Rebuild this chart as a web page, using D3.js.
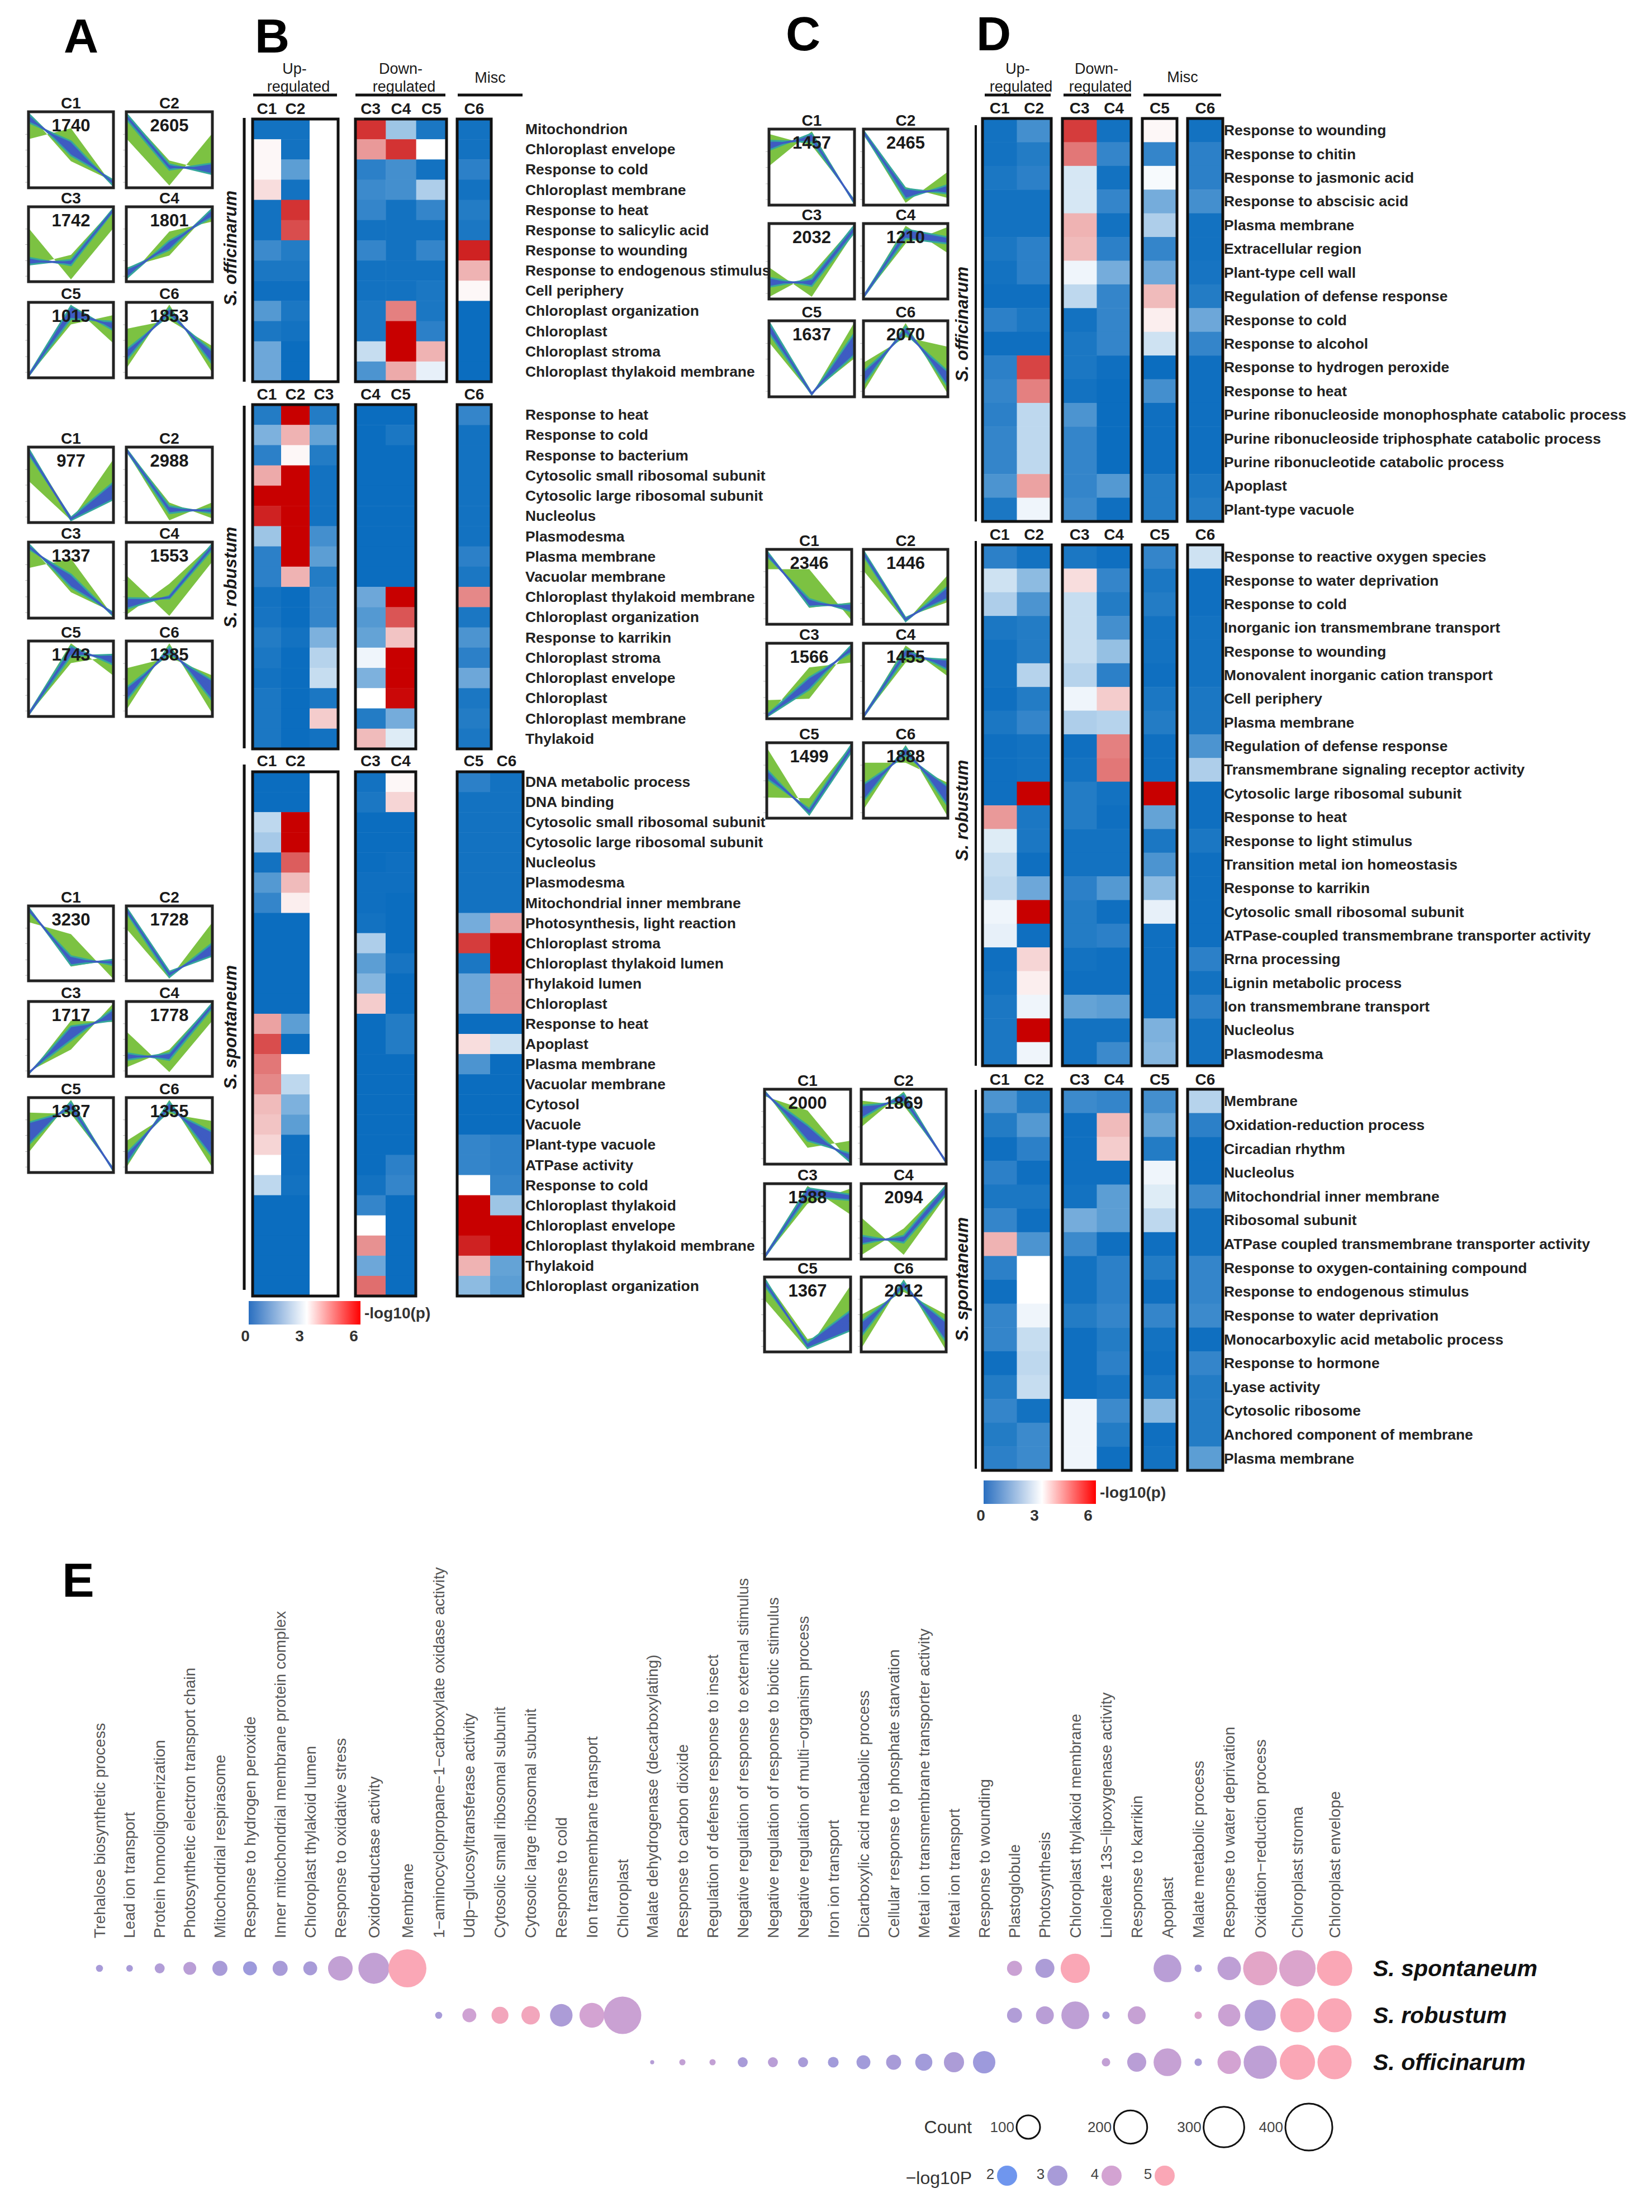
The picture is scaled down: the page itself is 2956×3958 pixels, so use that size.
<!DOCTYPE html>
<html>
<head>
<meta charset="utf-8">
<script src="https://cdn.jsdelivr.net/npm/d3@7"></script>
<style>
  html, body { margin: 0; padding: 0; background: #fff; }
  text { font-family: "Liberation Sans", Arial, sans-serif; }
</style>
</head>
<body>
<div id="chart"></div>
<script>
// ---- cluster plots: each row of numbers is [edge A, edge B] of the green band, then of the blue band
const clusterNames = ["C1", "C2", "C3", "C4", "C5", "C6"];

const countsA = [
  [1740, 2605, 1742, 1801, 1015, 1853],
  [977, 2988, 1337, 1553, 1743, 1385],
  [3230, 1728, 1717, 1778, 1387, 1355]
];
const countsC = [
  [1457, 2465, 2032, 1210, 1637, 2070],
  [2346, 1446, 1566, 1455, 1499, 1888],
  [2000, 1869, 1588, 2094, 1367, 2012]
];

const bandsA = [
  [
    [[1, .34, .06], [.65, .8, 0], [1, .42, .08], [.88, .62, 0]],
    [[1, .35, .2], [.65, 0, .72], [1, .3, .16], [.92, .22, .31]],
    [[.72, 0, .72], [.2, .35, 1], [.31, .2, .96], [.21, .28, 1]],
    [[0, .68, .82], [.17, .34, 1], [.02, .55, .88], [.15, .42, 1]],
    [[0, .72, .85], [.03, 1, .46], [0, .8, .76], [.02, .98, .64]],
    [[.66, .78, .42], [.11, 1, .05], [.37, .85, .35], [.22, .95, .17]]
  ],
  [
    [[1, .05, .29], [.55, 0, .85], [1, 0, .29], [.92, .04, .53]],
    [[1, .25, .03], [.96, 0, .25], [1, .2, .1], [.97, .1, .17]],
    [[1, .33, .05], [.67, .8, 0], [1, .4, .05], [.93, .58, 0]],
    [[.56, 0, .75], [.02, .45, 1], [.25, .24, .92], [.1, .28, 1]],
    [[0, .72, .82], [.03, 1, .55], [0, .82, .84], [.02, .96, .7]],
    [[.65, .8, .55], [.07, 1, .02], [.38, .85, .48], [.2, .95, .2]]
  ],
  [
    [[.8, .63, 0], [1, .17, .27], [.95, .32, .19], [1, .19, .27]],
    [[1, .1, .37], [.7, 0, .79], [1, .1, .32], [.93, .02, .5]],
    [[0, .76, .74], [.04, .35, 1], [.01, .68, .76], [.03, .48, .92]],
    [[.6, .03, .75], [.1, .35, 1], [.3, .2, .93], [.2, .3, 1]],
    [[.82, .8, .03], [.26, 1, 0], [.68, .85, .03], [.37, .97, 0]],
    [[.42, .8, .7], [.05, 1, .05], [.25, .85, .55], [.1, .97, .2]]
  ]
];
const bandsC = [
  [
    [[.96, .8, .05], [.52, 1, 0], [.87, .85, .04], [.74, .97, 0]],
    [[1, .22, .07], [.95, 0, .43], [1, .2, .13], [.96, .06, .25]],
    [[.41, 0, .9], [0, .32, 1], [.27, .15, .9], [.14, .25, 1]],
    [[0, .75, .98], [.02, 1, .62], [0, .82, .75], [.02, .95, .84]],
    [[1, .03, .5], [.72, 0, 1], [1, .02, .55], [.85, 0, .85]],
    [[.45, .8, .67], [.05, 1, .02], [.33, .85, .33], [.15, .95, .12]]
  ],
  [
    [[1, .2, .28], [.75, .75, .03], [1, .22, .26], [.93, .33, .15]],
    [[1, .07, .28], [.72, 0, .66], [1, .06, .33], [.93, .01, .5]],
    [[.23, .25, 1], [0, .69, .76], [.03, .55, .9], [0, .38, 1]],
    [[0, .76, .82], [.02, 1, .57], [0, .84, .8], [.02, .95, .66]],
    [[.95, 0, .96], [.26, .25, 1], [.65, .02, .9], [.52, .1, 1]],
    [[.75, .75, .47], [.1, 1, 0], [.45, .85, .42], [.22, .97, .15]]
  ],
  [
    [[1, .2, .3], [.93, .73, 0], [1, .3, .12], [.96, .52, 0]],
    [[.87, .8, .03], [.5, 1, 0], [.8, .85, .02], [.62, .97, 0]],
    [[0, .75, .96], [.03, 1, .6], [0, .85, .8], [.02, .97, .88]],
    [[.55, .03, .85], [.03, .4, 1], [.3, .2, .88], [.18, .3, 1]],
    [[1, .15, .3], [.7, 0, .9], [1, .02, .27], [.9, .1, .55]],
    [[.5, .82, .5], [.03, 1, 0], [.4, .87, .4], [.2, .97, .12]]
  ]
];

// ---- heatmaps, -log10(p), null = empty column
const termsB1 = ["Mitochondrion", "Chloroplast envelope", "Response to cold", "Chloroplast membrane", "Response to heat", "Response to salicylic acid", "Response to wounding", "Response to endogenous stimulus", "Cell periphery", "Chloroplast organization", "Chloroplast", "Chloroplast stroma", "Chloroplast thylakoid membrane"];
const valuesB1 = [
  [.1, .1, null, 5.4, 1.8, .2, .1],
  [3.1, .1, null, 4.2, 5.4, 3, .1],
  [3.1, 1, null, .4, .7, .1, .4],
  [3.4, .1, null, .6, .7, 2, .1],
  [.1, 5.4, null, .5, .1, .5, .3],
  [.1, 5.1, null, .1, .1, .1, .2],
  [.6, .3, null, .5, .1, .5, 5.6],
  [.2, .2, null, .1, .1, .1, 3.9],
  [.05, .05, null, .1, .1, .2, 3.1],
  [.9, .2, null, .2, 4.5, .2, 0],
  [.2, .1, null, .2, 6, .4, 0],
  [1.2, 0, null, 2.3, 6, 3.9, 0],
  [1.2, 0, null, .8, 4, 2.7, 0]
];
const termsB2 = ["Response to heat", "Response to cold", "Response to bacterium", "Cytosolic small ribosomal subunit", "Cytosolic large ribosomal subunit", "Nucleolus", "Plasmodesma", "Plasma membrane", "Vacuolar membrane", "Chloroplast thylakoid membrane", "Chloroplast organization", "Response to karrikin", "Chloroplast stroma", "Chloroplast envelope", "Chloroplast", "Chloroplast membrane", "Thylakoid"];
const valuesB2 = [
  [.3, 6, .3, 0, 0, .5],
  [1.4, 3.9, 1.1, 0, .2, .1],
  [.4, 3.1, .3, 0, 0, .1],
  [4, 6, .1, 0, 0, .1],
  [6, 6, .1, 0, 0, .1],
  [5.6, 6, .1, 0, 0, .1],
  [1.8, 6, .7, 0, 0, .1],
  [.4, 6, 1, 0, 0, .4],
  [.4, 3.9, .3, 0, 0, .2],
  [.1, 0, .5, 1.2, 6, 4.4],
  [.15, 0, .5, .9, 5, .2],
  [.3, .1, 1.4, 1.1, 3.7, .8],
  [.2, 0, 2.1, 2.8, 6, .4],
  [.1, 0, 2.3, 1.4, 6, 1.2],
  [.2, 0, .2, 3, 5.9, .2],
  [.2, 0, 3.6, .3, 1.3, .3],
  [.2, 0, .1, 3.8, 2.6, .2]
];
const termsB3 = ["DNA metabolic process", "DNA binding", "Cytosolic small ribosomal subunit", "Cytosolic large ribosomal subunit", "Nucleolus", "Plasmodesma", "Mitochondrial inner membrane", "Photosynthesis, light reaction", "Chloroplast stroma", "Chloroplast thylakoid lumen", "Thylakoid lumen", "Chloroplast", "Response to heat", "Apoplast", "Plasma membrane", "Vacuolar membrane", "Cytosol", "Vacuole", "Plant-type vacuole", "ATPase activity", "Response to cold", "Chloroplast thylakoid", "Chloroplast envelope", "Chloroplast thylakoid membrane", "Thylakoid", "Chloroplast organization"];
const valuesB3 = [
  [0, 0, null, .1, 3.1, .4, .1],
  [0, 0, null, .2, 3.5, .1, .1],
  [2.2, 6, null, 0, 0, .1, .1],
  [1.9, 6, null, 0, 0, .1, .1],
  [.1, 4.9, null, 0, .05, .1, .1],
  [.9, 3.8, null, .05, .05, .1, .1],
  [.5, 3.2, null, .05, 0, .1, .1],
  [0, 0, null, .1, 0, 1.3, 4.1],
  [0, 0, null, 2, 0, 5.3, 6],
  [0, 0, null, 1, .15, .2, 6],
  [0, 0, null, 1.5, 0, 1.2, 4.3],
  [0, 0, null, 3.6, 0, 1.2, 4.3],
  [4.1, 1, null, 0, .3, 0, 0],
  [5.1, 0, null, 0, .3, 3.4, 2.4],
  [4.6, 3, null, 0, 0, .8, 0],
  [4.4, 2.2, null, 0, 0, 0, 0],
  [3.8, 1.4, null, 0, 0, 0, 0],
  [3.7, 1, null, 0, 0, 0, 0],
  [3.5, .05, null, 0, 0, .5, .4],
  [3, .05, null, 0, .4, .5, .4],
  [2.2, .1, null, .1, .5, 3, .5],
  [0, 0, null, .5, 0, 6, 1.8],
  [0, 0, null, 3, 0, 6, 6],
  [0, 0, null, 4.3, 0, 5.6, 6],
  [0, 0, null, 1.2, 0, 3.9, 1.1],
  [0, 0, null, 4.7, 0, 1.6, 1]
];

const termsD1 = ["Response to wounding", "Response to chitin", "Response to jasmonic acid", "Response to abscisic acid", "Plasma membrane", "Extracellular region", "Plant-type cell wall", "Regulation of defense response", "Response to cold", "Response to alcohol", "Response to hydrogen peroxide", "Response to heat", "Purine ribonucleoside monophosphate catabolic process", "Purine ribonucleoside triphosphate catabolic process", "Purine ribonucleotide catabolic process", "Apoplast", "Plant-type vacuole"];
const valuesD1 = [
  [.1, .7, 5.3, .1, 3.1, .1],
  [.1, .3, 4.6, .5, .5, .4],
  [.2, .4, 2.5, .1, 2.9, .4],
  [.1, .1, 2.5, .5, 1.3, .7],
  [.1, .1, 3.9, .1, 2, .1],
  [.2, .4, 3.8, .4, .5, .1],
  [.1, .4, 2.8, 1.3, 1.2, .15],
  [.05, .05, 2.2, .5, 3.8, .3],
  [.4, .2, .1, .5, 3.2, 1.2],
  [.05, .05, .2, .5, 2.4, .5],
  [.4, 5.2, .2, .05, 0, .05],
  [.5, 4.5, .1, 0, .7, .05],
  [.4, 2.2, .8, 0, .05, .05],
  [.5, 2.2, .5, 0, .05, .05],
  [.5, 2.2, .5, 0, .05, .05],
  [.8, 4.1, .5, .9, .3, .2],
  [.2, 2.8, .6, .05, .3, .3]
];
const termsD2 = ["Response to reactive oxygen species", "Response to water deprivation", "Response to cold", "Inorganic ion transmembrane transport", "Response to wounding", "Monovalent inorganic cation transport", "Cell periphery", "Plasma membrane", "Regulation of defense response", "Transmembrane signaling receptor activity", "Cytosolic large ribosomal subunit", "Response to heat", "Response to light stimulus", "Transition metal ion homeostasis", "Response to karrikin", "Cytosolic small ribosomal subunit", "ATPase-coupled transmembrane transporter activity", "Rrna processing", "Lignin metabolic process", "Ion transmembrane transport", "Nucleolus", "Plasmodesma"];
const valuesD2 = [
  [.4, .1, .2, .05, .5, 2.4],
  [2.4, 1.6, 3.4, .5, .2, .05],
  [2, .8, 2.3, .3, .3, .05],
  [.2, .3, 2.3, .7, .1, .1],
  [.1, .3, 2.3, 1.7, .1, .1],
  [.1, 2.1, 2.1, .4, .05, .1],
  [.05, .3, 2.8, 3.6, .2, .2],
  [.2, .5, 2, 2.1, .3, .2],
  [.05, .1, .05, 4.5, .05, .8],
  [.05, .1, .1, 4.6, .05, 2],
  [.05, 6, .3, .1, 6, .05],
  [4.2, .2, .3, .05, 1.1, .05],
  [2.6, .2, .1, .1, .2, .2],
  [2.3, .05, .1, .1, .8, .05],
  [2.2, 1.2, .4, .9, 1.6, .05],
  [2.8, 6, .3, .05, 2.7, .05],
  [2.7, .05, .3, .4, .05, .05],
  [.05, 3.5, .1, .05, .05, .4],
  [.1, 3.2, .05, .05, .05, .1],
  [.2, 2.8, 1.1, 1, .05, .4],
  [.2, 6, .1, .1, 1.4, .1],
  [.2, 2.8, .1, .6, 1.5, .1]
];
const termsD3 = ["Membrane", "Oxidation-reduction process", "Circadian rhythm", "Nucleolus", "Mitochondrial inner membrane", "Ribosomal subunit", "ATPase coupled transmembrane transporter activity", "Response to oxygen-containing compound", "Response to endogenous stimulus", "Response to water deprivation", "Monocarboxylic acid metabolic process", "Response to hormone", "Lyase activity", "Cytosolic ribosome", "Anchored component of membrane", "Plasma membrane"];
const valuesD3 = [
  [.8, .3, .6, .5, .7, 2.1],
  [.3, .9, .05, 3.8, 1.1, .4],
  [.05, .4, .05, 3.6, .3, .05],
  [.4, .05, .05, .05, 2.8, .05],
  [.2, .2, .1, 1, 2.6, .6],
  [.5, .05, 1.3, 1, 2.2, .1],
  [3.9, .8, .6, .05, .05, .1],
  [.4, 3, .1, .4, .3, .5],
  [.05, 3, .1, .4, .05, .5],
  [.5, 2.8, .3, .5, .5, .6],
  [.5, 2.3, .05, .3, .1, .05],
  [.05, 2.2, .05, .4, .05, .5],
  [.3, 2.3, .05, .15, .2, .3],
  [.5, .1, 2.8, .6, 1.6, .3],
  [.3, .6, 2.8, .3, .05, .3],
  [.4, .6, 2.8, .05, .1, 1]
];

// ---- panel E
const bubbleTerms = ["Trehalose biosynthetic process", "Lead ion transport", "Protein homooligomerization", "Photosynthetic electron transport chain", "Mitochondrial respirasome", "Response to hydrogen peroxide", "Inner mitochondrial membrane protein complex", "Chloroplast thylakoid lumen", "Response to oxidative stress", "Oxidoreductase activity", "Membrane", "1−aminocyclopropane−1−carboxylate oxidase activity", "Udp−glucosyltransferase activity", "Cytosolic small ribosomal subunit", "Cytosolic large ribosomal subunit", "Response to cold", "Ion transmembrane transport", "Chloroplast", "Malate dehydrogenase (decarboxylating)", "Response to carbon dioxide", "Regulation of defense response to insect", "Negative regulation of response to external stimulus", "Negative regulation of response to biotic stimulus", "Negative regulation of multi−organism process", "Iron ion transport", "Dicarboxylic acid metabolic process", "Cellular response to phosphate starvation", "Metal ion transmembrane transporter activity", "Metal ion transport", "Response to wounding", "Plastoglobule", "Photosynthesis", "Chloroplast thylakoid membrane", "Linoleate 13s−lipoxygenase activity", "Response to karrikin", "Apoplast", "Malate metabolic process", "Response to water deprivation", "Oxidation−reduction process", "Chloroplast stroma", "Chloroplast envelope"];
const bubbleSpecies = ["S. spontaneum", "S. robustum", "S. officinarum"];
// [term index, count, -log10P]
const bubblesSpontaneum = [[0, 9, 3], [1, 8, 3], [2, 18, 3.2], [3, 30, 3.4], [4, 41, 3], [5, 35, 2.8], [6, 41, 3], [7, 35, 3], [8, 110, 3.6], [9, 174, 3.6], [10, 262, 5], [30, 41, 3.8], [31, 66, 3.1], [32, 155, 5], [35, 140, 3.4], [36, 10, 3], [37, 100, 3.5], [38, 212, 4.4], [39, 240, 4.2], [40, 226, 5]];
const bubblesRobustum = [[11, 9, 3], [12, 35, 3.9], [13, 52, 4.8], [14, 62, 4.8], [15, 92, 3.1], [16, 113, 4], [17, 254, 3.8], [30, 41, 3.2], [31, 58, 3.4], [32, 140, 3.5], [33, 10, 3], [34, 58, 3.7], [36, 10, 4.2], [37, 90, 3.8], [38, 175, 3.2], [39, 212, 5], [40, 212, 5]];
const bubblesOfficinarum = [[18, 3, 3.3], [19, 7, 3.6], [20, 7, 3.6], [21, 18, 3], [22, 18, 3.4], [23, 18, 3], [24, 21, 2.9], [25, 35, 2.9], [26, 41, 3], [27, 53, 2.9], [28, 74, 3.1], [29, 91, 2.8], [33, 13, 3.6], [34, 66, 3.4], [35, 140, 3.7], [36, 10, 3], [37, 100, 4], [38, 200, 3.5], [39, 226, 5], [40, 212, 5]];
const legendCounts = [100, 200, 300, 400];
const legendP = [2, 3, 4, 5];

const width = 2956, height = 3958;
const ink = "#1a1a1a";

const svg = d3.select("#chart").append("svg")
  .attr("width", width)
  .attr("height", height)
  .style("display", "block");

// cell colours: same blue-white-red as the key, darker red end
const heatColor = d3.scaleLinear()
  .domain([0, 3, 6])
  .range(["#0b6dbf", "#ffffff", "#c80000"]);

function addText(str, x, y, size, opts = {}) {
  return svg.append("text")
    .attr("x", x)
    .attr("y", y)
    .attr("font-size", size)
    .attr("font-weight", opts.weight || "bold")
    .attr("font-style", opts.style || null)
    .attr("text-anchor", opts.anchor || "middle")
    .attr("dominant-baseline", "central")
    .attr("fill", opts.fill || ink)
    .attr("font-family", opts.family || null)
    .attr("transform", opts.rotate ? `rotate(${opts.rotate},${x},${y})` : null)
    .text(str);
}

// ---- small cluster plots
function drawCluster(x0, x1, y0, y1, name, count, band) {
  const g = svg.append("g");
  const x = d3.scaleLinear().domain([0, 2]).range([x0 + 1, x1 - 1]);
  const y = d3.scaleLinear().domain([0, 1]).range([y1 - 4, y0 + 4]);

  const area = d3.area()
    .x((d, i) => x(i))
    .y0((d, i) => y(d[0]))
    .y1((d, i) => y(d[1]));
  const midLine = d3.line()
    .x((d, i) => x(i))
    .y(d => y((d[0] + d[1]) / 2));

  const blueBand = d3.zip(band[2], band[3]);

  g.append("path")
    .attr("d", area(d3.zip(band[0], band[1])))
    .attr("fill", "#7cc242");
  g.append("path")
    .attr("d", area(blueBand))
    .attr("fill", "#3e5cc2")
    .attr("stroke", "#35a79c")
    .attr("stroke-width", 3);
  g.append("path")
    .attr("d", midLine(blueBand))
    .attr("fill", "none")
    .attr("stroke", "#3e5cc2")
    .attr("stroke-width", 3.5);

  const ticks = g.append("g")
    .attr("transform", `translate(${x0 - 2},0)`)
    .call(d3.axisLeft(y).tickValues([.05, .27, .5, .72]).tickSize(4).tickFormat(""));
  ticks.select(".domain").remove();
  ticks.selectAll("line").attr("stroke", "#bbb");

  g.append("rect")
    .attr("x", x0)
    .attr("y", y0)
    .attr("width", x1 - x0)
    .attr("height", y1 - y0)
    .attr("fill", "none")
    .attr("stroke", "#222")
    .attr("stroke-width", 5);

  addText(name, (x0 + x1) / 2, y0 - 16, 28);
  addText(count, (x0 + x1) / 2, y0 + 24, 31);
}

function drawClusterBlock(xs, ys, counts, bands) {
  counts.forEach((c, i) => {
    const col = xs[i % 2];
    const row = ys[Math.floor(i / 2)];
    drawCluster(col[0], col[1], row[0], row[1], clusterNames[i], c, bands[i]);
  });
}

const panelAColumns = [[51, 203], [226, 380]];
drawClusterBlock(panelAColumns, [[200, 336], [370, 504], [541, 676]], countsA[0], bandsA[0]);
drawClusterBlock(panelAColumns, [[800, 935], [970, 1106], [1147, 1282]], countsA[1], bandsA[1]);
drawClusterBlock(panelAColumns, [[1621, 1755], [1792, 1926], [1964, 2098]], countsA[2], bandsA[2]);

drawClusterBlock([[1376, 1529], [1545, 1696]], [[231, 367], [400, 535], [574, 710]], countsC[0], bandsC[0]);
drawClusterBlock([[1372, 1524], [1545, 1696]], [[983, 1117], [1151, 1286], [1329, 1464]], countsC[1], bandsC[1]);
drawClusterBlock([[1368, 1522], [1541, 1693]], [[1949, 2083], [2118, 2253], [2285, 2419]], countsC[2], bandsC[2]);

// ---- heatmap block: frames = [x0, x1, names of the columns in it]
function drawHeat(frames, y0, y1, terms, values, labelX, headerY) {
  const y = d3.scaleBand().domain(d3.range(terms.length)).range([y0, y1]);
  let offset = 0;

  frames.forEach(frame => {
    const names = frame[2];
    const first = offset;
    offset += names.length;
    const x = d3.scaleBand().domain(names).range([frame[0], frame[1]]);

    names.forEach((name, c) => {
      svg.append("g").selectAll("rect")
        .data(values.map(r => r[first + c]))
        .join("rect")
        .attr("x", x(name))
        .attr("y", (d, i) => y(i))
        .attr("width", x.bandwidth() + .5)
        .attr("height", y.bandwidth() + .5)
        .attr("fill", d => d === null ? "#fff" : heatColor(d));
      if (name.charAt(0) === "C") addText(name, x(name) + x.bandwidth() / 2, headerY, 28);
    });

    svg.append("rect")
      .attr("x", frame[0])
      .attr("y", y0)
      .attr("width", frame[1] - frame[0])
      .attr("height", y1 - y0)
      .attr("fill", "none")
      .attr("stroke", "#111")
      .attr("stroke-width", 5);
  });

  svg.append("g").selectAll("text")
    .data(terms)
    .join("text")
    .attr("x", labelX)
    .attr("y", (d, i) => y(i) + y.bandwidth() / 2)
    .attr("dominant-baseline", "central")
    .attr("font-size", 26.4)
    .attr("font-weight", "bold")
    .attr("fill", "#222")
    .text(d => d);
}

// the empty third column keeps its width, it is just not labelled
drawHeat([[452, 605, ["C1", "C2", " "]], [636, 799, ["C3", "C4", "C5"]], [818, 879, ["C6"]]], 213, 683, termsB1, valuesB1, 940, 194);
drawHeat([[452, 605, ["C1", "C2", "C3"]], [636, 744, ["C4", "C5"]], [818, 879, ["C6"]]], 724, 1340, termsB2, valuesB2, 940, 705);
drawHeat([[452, 605, ["C1", "C2", " "]], [636, 744, ["C3", "C4"]], [818, 936, ["C5", "C6"]]], 1381, 2319, termsB3, valuesB3, 940, 1361);

const framesD = [[1758, 1881, ["C1", "C2"]], [1901, 2024, ["C3", "C4"]], [2044, 2106, ["C5"]], [2125, 2188, ["C6"]]];
drawHeat(framesD, 212, 933, termsD1, valuesD1, 2190, 193);
drawHeat(framesD, 975, 1907, termsD2, valuesD2, 2190, 956);
drawHeat(framesD, 1949, 2631, termsD3, valuesD3, 2190, 1931);

// ---- header rules, species bars
function rule(x1, x2, y1, y2, w) {
  svg.append("line")
    .attr("x1", x1).attr("x2", x2)
    .attr("y1", y1).attr("y2", y2)
    .attr("stroke", "#111")
    .attr("stroke-width", w);
}

rule(453, 603, 170, 170, 5);
rule(636, 797, 170, 170, 5);
rule(819, 935, 170, 170, 5);
addText("Up-", 527, 123, 27, { weight: "normal" });
addText("regulated", 534, 155, 27, { weight: "normal" });
addText("Down-", 717, 123, 27, { weight: "normal" });
addText("regulated", 723, 155, 27, { weight: "normal" });
addText("Misc", 877, 139, 27, { weight: "normal" });

rule(1762, 1880, 170, 170, 5);
rule(1903, 2024, 170, 170, 5);
rule(2046, 2185, 170, 170, 5);
addText("Up-", 1821, 123, 27, { weight: "normal" });
addText("regulated", 1827, 155, 27, { weight: "normal" });
addText("Down-", 1962, 123, 27, { weight: "normal" });
addText("regulated", 1969, 155, 27, { weight: "normal" });
addText("Misc", 2116, 138, 27, { weight: "normal" });

rule(437, 437, 211, 683, 5);
rule(437, 437, 726, 1339, 5);
rule(437, 437, 1368, 2308, 5);
rule(1746, 1746, 224, 933, 4);
rule(1746, 1746, 968, 1907, 4);
rule(1746, 1746, 1950, 2628, 4);

addText("S. officinarum", 412, 444, 31, { style: "italic", rotate: -90 });
addText("S. robustum", 412, 1033, 31, { style: "italic", rotate: -90 });
addText("S. spontaneum", 412, 1838, 31, { style: "italic", rotate: -90 });
addText("S. officinarum", 1721, 580, 31, { style: "italic", rotate: -90 });
addText("S. robustum", 1721, 1450, 31, { style: "italic", rotate: -90 });
addText("S. spontaneum", 1721, 2289, 31, { style: "italic", rotate: -90 });

// ---- panel letters
[["A", 145, 64], ["B", 487, 64], ["C", 1437, 60], ["D", 1778, 60], ["E", 140, 2827]].forEach(p => {
  addText(p[0], p[1], p[2], 86, { family: "Lato", fill: "#000" });
});

// ---- colour keys
const keyStops = [[0, "#2a6fc0"], [.52, "#ffffff"], [1, "#ff0000"]];
const defs = svg.append("defs");
const keyGrad = defs.append("linearGradient").attr("id", "heatKey");
keyGrad.selectAll("stop")
  .data(keyStops)
  .join("stop")
  .attr("offset", d => d[0])
  .attr("stop-color", d => d[1]);

function drawKey(x0, x1, y0, y1, labelXs) {
  svg.append("rect")
    .attr("x", x0).attr("y", y0)
    .attr("width", x1 - x0).attr("height", y1 - y0)
    .attr("fill", "url(#heatKey)");
  addText("-log10(p)", x1 + 7, (y0 + y1) / 2, 28, { anchor: "start", fill: "#333" });
  const x = d3.scaleLinear().domain([0, 6]).range(labelXs);
  [0, 3, 6].forEach(v => addText(v, x(v), y1 + 20, 28, { fill: "#333" }));
}
drawKey(445, 645, 2328, 2370, [439, 633]);
drawKey(1760, 1961, 2649, 2691, [1755, 1947]);

// ---- panel E bubbles
const termIndex = d3.scaleLinear()
  .domain([0, 8, 10, 11, 17, 18, 29, 32, 36, 38, 40])
  .range([178, 609, 729, 785, 1114, 1167, 1761, 1924, 2144, 2255, 2388]);
const speciesY = d3.scalePoint().domain(bubbleSpecies).range([3522, 3690]);
const radius = d3.scaleSqrt().domain([0, 400]).range([0, 42]);
const pColor = d3.scaleLinear()
  .domain([2, 3, 4, 5])
  .range(["#6f96ee", "#a89bd8", "#d3a3d2", "#faa7b6"]);

svg.append("g").selectAll("text")
  .data(bubbleTerms)
  .join("text")
  .attr("transform", (d, i) => `translate(${termIndex(i)},3468) rotate(-90)`)
  .attr("dominant-baseline", "central")
  .attr("font-size", 28)
  .attr("fill", "#555")
  .text(d => d);

[bubblesSpontaneum, bubblesRobustum, bubblesOfficinarum].forEach((rows, s) => {
  svg.append("g").selectAll("circle")
    .data(rows)
    .join("circle")
    .attr("cx", d => termIndex(d[0]))
    .attr("cy", speciesY(bubbleSpecies[s]))
    .attr("r", d => radius(d[1]))
    .attr("fill", d => pColor(d[2]));
  addText(bubbleSpecies[s], 2457, speciesY(bubbleSpecies[s]), 41, { anchor: "start", style: "italic", fill: "#111" });
});

// ---- panel E legends
const countLegendX = d3.scaleOrdinal().domain(legendCounts).range([1840, 2023, 2190, 2342]);
addText("Count", 1739, 3806, 32, { anchor: "end", weight: "normal", fill: "#333" });
legendCounts.forEach(c => {
  const cx = countLegendX(c);
  svg.append("circle")
    .attr("cx", cx)
    .attr("cy", 3806)
    .attr("r", radius(c))
    .attr("fill", "none")
    .attr("stroke", "#111")
    .attr("stroke-width", 3);
  addText(c, cx - radius(c) - 4, 3806, 26, { anchor: "end", weight: "normal", fill: "#444" });
});

const pLegendX = d3.scaleOrdinal().domain(legendP).range([1802, 1892, 1989, 2084]);
addText("−log10P", 1739, 3897, 32, { anchor: "end", weight: "normal", fill: "#333" });
legendP.forEach(p => {
  svg.append("circle")
    .attr("cx", pLegendX(p))
    .attr("cy", 3893)
    .attr("r", 18)
    .attr("fill", pColor(p));
  addText(p, pLegendX(p) - 30, 3890, 26, { weight: "normal", fill: "#444" });
});
</script>
</body>
</html>
